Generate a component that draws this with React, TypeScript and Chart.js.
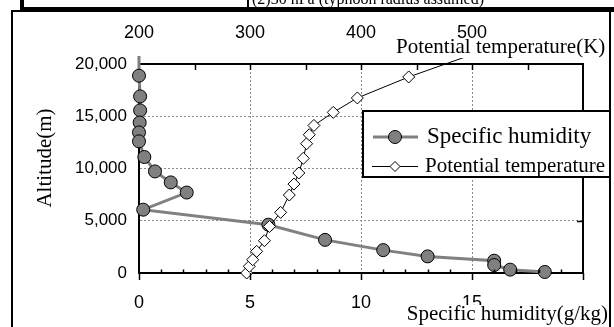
import React, { useEffect, useRef } from 'react';
import { Chart, registerables } from 'chart.js';

Chart.register(...registerables);

// Specific humidity (g/kg) vs altitude (m) — first point lies above the axis top
const humidityValues = [0, 0, 0.05, 0.05, 0.03, 0, 0, 0.24, 0.72, 1.43, 2.15, 0.19, 5.83, 8.38, 11.0, 13.0, 16.0, 16.0, 16.72, 18.28];
const humidityAltitudes = [21500, 18880, 16900, 15560, 14400, 13450, 12600, 11100, 9720, 8670, 7700, 6060, 4620, 3170, 2190, 1590, 1180, 760, 320, 100];

// Potential temperature (K) vs altitude (m) — last point lies above the axis top
const temperatureValues = [297, 299.4, 302.4, 306, 313, 317.5, 327.6, 335.4, 339.6, 344, 348, 351, 353.4, 357.6, 375, 396.7, 443, 512];
const temperatureAltitudes = [0, 640, 1270, 2070, 3090, 4450, 5800, 7460, 8510, 9570, 10970, 12370, 13230, 14120, 15370, 16750, 18760, 21350];

const humidityTicks = [0, 5, 10, 15];
const temperatureTicks = [200, 300, 400, 500];
const altitudeTicks = [0, 5000, 10000, 15000, 20000];

const humidityLabel = 'Specific humidity';
const temperatureLabel = 'Potential temperature';
const humidityAxisTitle = 'Specific humidity(g/kg)';
const temperatureAxisTitle = 'Potential temperature(K)';
const altitudeAxisTitle = 'Altitude(m)';
const headerText = '(2)30 hPa (typhoon radius assumed)';

const SANS = '"Liberation Sans", Arial, sans-serif';
const SERIF = '"Liberation Serif", "Times New Roman", serif';
const GRAY = '#808080';

const extrasPlugin = {
  id: 'extras',
  beforeDraw(chart: any) {
    const ctx = chart.ctx;
    ctx.save();
    ctx.fillStyle = '#fff';
    ctx.fillRect(0, 0, chart.width, chart.height);
    ctx.restore();
  },
  afterDraw(chart: any) {
    const ctx = chart.ctx;
    const { x, y, x2 } = chart.scales;
    const area = chart.chartArea;
    ctx.save();
    ctx.strokeStyle = '#000';
    ctx.lineWidth = 1.5;
    // bottom axis: major ticks outward, minor ticks inward
    for (let v = 0; v <= 20; v++) {
      const px = Math.round(x.getPixelForValue(v)) + 0.5;
      ctx.beginPath();
      if (v % 5 === 0) {
        ctx.moveTo(px, area.bottom);
        ctx.lineTo(px, area.bottom + 7);
      } else {
        ctx.moveTo(px, area.bottom);
        ctx.lineTo(px, area.bottom - 3.5);
      }
      ctx.stroke();
    }
    // top axis ticks inward every 50 K
    for (let v = 250; v < 600; v += 50) {
      const px = Math.round(x2.getPixelForValue(v)) + 0.5;
      ctx.beginPath();
      ctx.moveTo(px, area.top);
      ctx.lineTo(px, area.top + 6);
      ctx.stroke();
    }
    // right axis ticks inward
    altitudeTicks.slice(1, -1).forEach((v) => {
      const py = Math.round(y.getPixelForValue(v)) + 0.5;
      ctx.beginPath();
      ctx.moveTo(area.right, py);
      ctx.lineTo(area.right - 6, py);
      ctx.stroke();
    });
    ctx.restore();

    // axis titles with white backing
    ctx.save();
    ctx.fillStyle = '#fff';
    ctx.fillRect(393, 39, 217, 19);
    ctx.fillRect(403, 305, 206, 22);
    ctx.fillStyle = '#000';
    ctx.font = `21px ${SERIF}`;
    ctx.textBaseline = 'alphabetic';
    ctx.textAlign = 'left';
    ctx.fillText(temperatureAxisTitle, 396, 53);
    ctx.textAlign = 'right';
    ctx.fillText(humidityAxisTitle, 608, 320);
    ctx.translate(51, 158);
    ctx.rotate(-Math.PI / 2);
    ctx.textAlign = 'center';
    ctx.fillText(altitudeAxisTitle, 0, 0);
    ctx.restore();

    // legend
    ctx.save();
    ctx.fillStyle = '#fff';
    ctx.fillRect(363, 111, 247, 66);
    ctx.strokeStyle = '#000';
    ctx.lineWidth = 2;
    ctx.strokeRect(363, 111, 247, 66);
    // humidity entry
    ctx.strokeStyle = GRAY;
    ctx.lineWidth = 3;
    ctx.beginPath();
    ctx.moveTo(373, 137);
    ctx.lineTo(418, 137);
    ctx.stroke();
    ctx.fillStyle = GRAY;
    ctx.strokeStyle = '#000';
    ctx.lineWidth = 1;
    ctx.beginPath();
    ctx.arc(395, 137, 6.5, 0, Math.PI * 2);
    ctx.fill();
    ctx.stroke();
    ctx.fillStyle = '#000';
    ctx.font = `23px ${SERIF}`;
    ctx.textAlign = 'left';
    ctx.textBaseline = 'alphabetic';
    ctx.fillText(humidityLabel, 427, 143);
    // temperature entry
    ctx.strokeStyle = '#000';
    ctx.lineWidth = 1;
    ctx.beginPath();
    ctx.moveTo(372, 166.5);
    ctx.lineTo(418, 166.5);
    ctx.stroke();
    ctx.fillStyle = '#fff';
    ctx.beginPath();
    ctx.moveTo(390, 166.5);
    ctx.lineTo(395, 161.5);
    ctx.lineTo(400, 166.5);
    ctx.lineTo(395, 171.5);
    ctx.closePath();
    ctx.fill();
    ctx.stroke();
    ctx.fillStyle = '#000';
    ctx.font = `21px ${SERIF}`;
    ctx.fillText(temperatureLabel, 425, 172);
    ctx.restore();

    // header table remnant
    ctx.save();
    ctx.fillStyle = '#000';
    ctx.font = `16px ${SERIF}`;
    ctx.textAlign = 'left';
    ctx.textBaseline = 'alphabetic';
    ctx.fillText(headerText, 252, 4);
    ctx.fillRect(20, 7, 594, 5);
    ctx.fillRect(20, 0, 4, 12);
    ctx.fillRect(247, 0, 2, 8);
    // outer frame
    ctx.strokeStyle = '#000';
    ctx.lineWidth = 2;
    ctx.strokeRect(12, 11, 598, 340);
    ctx.restore();
  },
};

export default function App() {
  const ref = useRef<HTMLCanvasElement>(null);

  useEffect(() => {
    if (!ref.current) return;
    const humidityPoints = humidityValues.map((v, i) => ({ x: v, y: humidityAltitudes[i] }));
    const temperaturePoints = temperatureValues.map((v, i) => ({ x: v, y: temperatureAltitudes[i] }));
    const gridColor = (edgeValues: number[]) => (c: any) =>
      c.tick && edgeValues.includes(c.tick.value) ? 'rgba(0,0,0,0)' : '#8a8a8a';

    const chart = new Chart(ref.current, {
      type: 'scatter',
      data: {
        datasets: [
          {
            label: temperatureLabel,
            data: temperaturePoints,
            xAxisID: 'x2',
            yAxisID: 'y',
            showLine: true,
            borderColor: '#000',
            borderWidth: 1,
            pointStyle: 'rectRot',
            pointRadius: temperaturePoints.map((p) => (p.y > 20000 ? 0 : 6)),
            pointBackgroundColor: '#fff',
            pointBorderColor: '#000',
            pointBorderWidth: 1,
            clip: { left: 10, top: 8, right: 10, bottom: 10 },
            order: 1,
          } as any,
          {
            label: humidityLabel,
            data: humidityPoints,
            xAxisID: 'x',
            yAxisID: 'y',
            showLine: true,
            borderColor: GRAY,
            borderWidth: 3,
            pointStyle: 'circle',
            pointRadius: humidityPoints.map((p) => (p.y > 20000 ? 0 : 6.5)),
            pointBackgroundColor: GRAY,
            pointBorderColor: '#000',
            pointBorderWidth: 1,
            clip: { left: 10, top: 8, right: 10, bottom: 10 },
            order: 2,
          } as any,
        ],
      },
      options: {
        responsive: false,
        animation: false,
        layout: { padding: 0 },
        plugins: { legend: { display: false }, tooltip: { enabled: false } },
        scales: {
          x: {
            type: 'linear',
            position: 'bottom',
            min: 0,
            max: 20,
            afterBuildTicks: (s: any) => {
              s.ticks = humidityTicks.map((v) => ({ value: v }));
            },
            afterFit: (s: any) => {
              s.height = 54;
            },
            ticks: { color: '#000', font: { family: SANS, size: 18 }, padding: 19, maxRotation: 0, autoSkip: false },
            grid: { color: gridColor([0, 20]), drawTicks: false, lineWidth: 1 },
            border: { display: true, color: '#000', width: 2, dash: [2, 2] },
          },
          x2: {
            type: 'linear',
            position: 'top',
            min: 200,
            max: 600,
            afterBuildTicks: (s: any) => {
              s.ticks = temperatureTicks.map((v) => ({ value: v }));
            },
            afterFit: (s: any) => {
              s.height = 64;
            },
            ticks: { color: '#000', font: { family: SANS, size: 18 }, padding: 20, maxRotation: 0, autoSkip: false },
            grid: { drawOnChartArea: false, drawTicks: false },
            border: { display: true, color: '#000', width: 2 },
          },
          y: {
            type: 'linear',
            position: 'left',
            min: 0,
            max: 20000,
            afterBuildTicks: (s: any) => {
              s.ticks = altitudeTicks.map((v) => ({ value: v }));
            },
            afterFit: (s: any) => {
              s.width = 139;
            },
            ticks: {
              color: '#000',
              font: { family: SANS, size: 17 },
              padding: 12,
              callback: (v: any) => Number(v).toLocaleString('en-US'),
            },
            grid: { color: gridColor([0, 20000]), drawTicks: false, lineWidth: 1 },
            border: { display: true, color: '#000', width: 2, dash: [2, 2] },
          },
          y2: {
            type: 'linear',
            position: 'right',
            min: 0,
            max: 20000,
            afterFit: (s: any) => {
              s.width = 31;
            },
            ticks: { display: false },
            grid: { drawOnChartArea: false, drawTicks: false },
            border: { display: true, color: '#000', width: 2 },
          },
        },
      } as any,
      plugins: [extrasPlugin],
    });
    return () => chart.destroy();
  }, []);

  return (
    <div style={{ position: 'fixed', left: 0, top: 0, width: 614, height: 327, background: '#fff' }}>
      <canvas ref={ref} width={614} height={327} style={{ display: 'block', width: 614, height: 327 }} />
    </div>
  );
}
